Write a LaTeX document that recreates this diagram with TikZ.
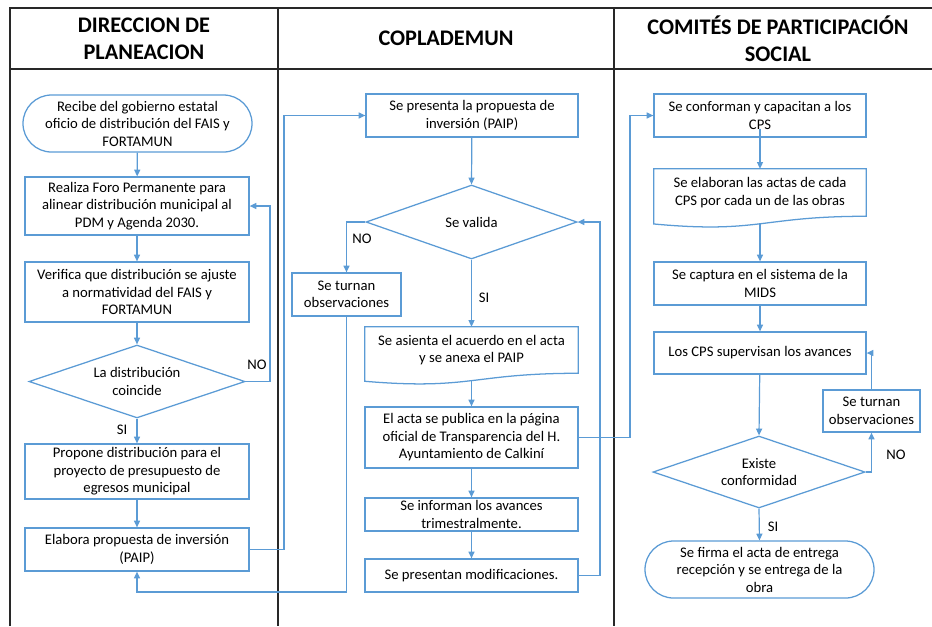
\documentclass[tikz,border=0pt]{standalone}
\usepackage{fontspec}
\setmainfont{Carlito}
\usetikzlibrary{arrows.meta,shapes.geometric,shapes.misc,calc}
\definecolor{flowblue}{RGB}{91,155,213}
\definecolor{framegray}{RGB}{40,40,40}
\newcommand{\bodyfont}{\fontsize{11}{13.1}\selectfont}
\newcommand{\headfont}{\fontsize{16.7}{20.25}\selectfont\bfseries}
\tikzset{
  frameline/.style={draw=framegray, line width=1.1pt},
  box/.style={draw=flowblue, line width=0.95pt, align=center, inner sep=0pt, font=\bodyfont, text=black},
  docbox/.style={align=center, inner sep=0pt, font=\bodyfont, text=black},
  docline/.style={draw=flowblue, line width=0.95pt},
  term/.style={box, rounded rectangle, rounded rectangle arc length=180},
  decision/.style={box, diamond, aspect=2.9},
  conn/.style={draw=flowblue, line width=0.9pt, -{Triangle[length=5pt,width=4.5pt]}},
  plainconn/.style={draw=flowblue, line width=0.9pt},
  lbl/.style={font=\bodyfont, text=black, inner sep=0pt},
  head/.style={font=\headfont, align=center, inner sep=0pt, text=black}
}
\begin{document}
\begin{tikzpicture}[x=0.75pt,y=-0.75pt]
\useasboundingbox (0,0) rectangle (932,626);
% frame
\draw[frameline] (10,626) -- (10,8) -- (932,8);
\draw[frameline] (10,69) -- (932,69);
\draw[frameline] (278,8) -- (278,626);
\draw[frameline] (614,8) -- (614,626);
% headers
\node[head] (h1) at (144,38.5) {DIRECCION DE\\PLANEACION};
\node[head] (h2) at (446,38.5) {COPLADEMUN};
\node[head] (h3) at (778,38.5) {COMITÉS DE PARTICIPACIÓN\\SOCIAL};

% left column
\node[term, minimum width=171.75pt, minimum height=42.75pt] (recibe) at (137.5,123.5)
  {Recibe del gobierno estatal\\oficio de distribución del FAIS y\\FORTAMUN};
\node[box, minimum width=168pt, minimum height=43.5pt] (realiza) at (137,206)
  {Realiza Foro Permanente para\\alinear distribución municipal al\\PDM y Agenda 2030.};
\node[box, minimum width=168pt, minimum height=45pt] (verifica) at (137,292)
  {Verifica que distribución se ajuste\\a normatividad del FAIS y\\FORTAMUN};
\node[decision, minimum width=162pt, minimum height=54.75pt] (coincide) at (137,381.5)
  {La distribución\\coincide};
\node[box, minimum width=168pt, minimum height=41.25pt] (propone) at (137,471.5)
  {Propone distribución para el\\proyecto de presupuesto de\\egresos municipal};
\node[box, minimum width=168pt, minimum height=32.25pt] (elabora) at (137,549.5)
  {Elabora propuesta de inversión\\(PAIP)};

% middle column
\node[box, minimum width=159pt, minimum height=32.25pt] (presenta) at (472,115.5)
  {Se presenta la propuesta de\\inversión (PAIP)};
\node[decision, minimum width=158.25pt, minimum height=55.5pt] (valida) at (471.5,222)
  {Se valida};
\node[box, minimum width=81.75pt, minimum height=32.25pt] (turnan1) at (346.5,294.5)
  {Se turnan\\observaciones};
\node[docbox, minimum width=159.75pt, minimum height=34.5pt] (asienta) at (471.5,350)
  {Se asienta el acuerdo en el acta\\y se anexa el PAIP};
\draw[docline] (asienta.north west) -- (asienta.north east) -- (asienta.south east)
  .. controls (asienta.south) and ($(asienta.south)+(0,17)$) .. ($(asienta.south west)+(0,8)$) -- cycle;
\coordinate (asientaout) at ($(asienta.south)+(0,7)$);
\node[box, minimum width=159.75pt, minimum height=45.75pt] (publica) at (471.5,437.5)
  {El acta se publica en la página\\oficial de Transparencia del H.\\Ayuntamiento de Calkiní};
\node[box, minimum width=159.75pt, minimum height=24.75pt] (informan) at (471.5,514.5)
  {Se informan los avances\\trimestralmente.};
\node[box, minimum width=159.75pt, minimum height=24.75pt] (modif) at (471.5,575.5)
  {Se presentan modificaciones.};

% right column
\node[box, minimum width=159pt, minimum height=32.25pt] (conforman) at (760,115.5)
  {Se conforman y capacitan a los\\CPS};
\coordinate (conformanout) at ($(conforman.south)+(0,-9)$);
\node[docbox, minimum width=159pt, minimum height=35.25pt] (elaboran) at (760,192.5)
  {Se elaboran las actas de cada\\CPS por cada un de las obras};
\draw[docline] (elaboran.north west) -- (elaboran.north east) -- (elaboran.south east)
  .. controls (elaboran.south) and ($(elaboran.south)+(0,17.5)$) .. ($(elaboran.south west)+(0,7.7)$) -- cycle;
\coordinate (elaboranout) at ($(elaboran.south)+(0,7.5)$);
\node[box, minimum width=159pt, minimum height=32.25pt] (captura) at (760,283.5)
  {Se captura en el sistema de la\\MIDS};
\node[box, minimum width=159pt, minimum height=31.5pt] (supervisan) at (760,353)
  {Los CPS supervisan los avances};
\node[box, minimum width=72.75pt, minimum height=31.5pt] (turnan2) at (871.5,411)
  {Se turnan\\observaciones};
\node[decision, minimum width=159pt, minimum height=54pt] (existe) at (759,472)
  {Existe\\conformidad};
\node[term, minimum width=171.75pt, minimum height=42.75pt] (firma) at (759.5,569.5)
  {Se firma el acta de entrega\\recepción y se entrega de la\\obra};

% connectors left
\draw[conn] (recibe) -- (realiza);
\draw[conn] (realiza) -- (verifica);
\draw[conn] (verifica) -- (coincide.north);
\draw[conn] (coincide.east) -| (270,300) |- (realiza.east);
\draw[conn] (coincide.south) -- (propone);
\draw[conn] (propone) -- (elabora);
\draw[conn] (elabora.east) -| (284,300) |- (presenta.west);
% connectors middle
\draw[conn] (presenta) -- (valida.north);
\draw[conn] (valida.west) -| (turnan1.north);
\draw[conn] (valida.south) -- (asienta.north);
\draw[conn] (turnan1.south) |- (200,592) -| (elabora.south);
\draw[conn] (asientaout) -- (publica.north);
\draw[conn] (publica) -- (informan);
\draw[conn] (informan) -- (modif);
\draw[conn] (modif.east) -| (600,400) |- (valida.east);
\draw[conn] (publica.east) -| (630,300) |- (conforman.west);
% connectors right
\draw[conn] (conformanout) -- (elaboran.north);
\draw[conn] (elaboranout) -- (captura.north);
\draw[conn] (captura) -- (supervisan);
\draw[conn] (supervisan) -- (existe.north);
\draw[conn] (existe.east) -| (turnan2.south);
\draw[conn] (turnan2.north) |- (supervisan.east);
\draw[conn] (existe.south) -- (firma.north);

% labels
\node[lbl] (no1) at (257,365) {NO};
\node[lbl] (si1) at (122,430) {SI};
\node[lbl] (no2) at (362,239) {NO};
\node[lbl] (si2) at (484,298) {SI};
\node[lbl] (no3) at (896,455) {NO};
\node[lbl] (si3) at (773,527) {SI};
\end{tikzpicture}
\end{document}
